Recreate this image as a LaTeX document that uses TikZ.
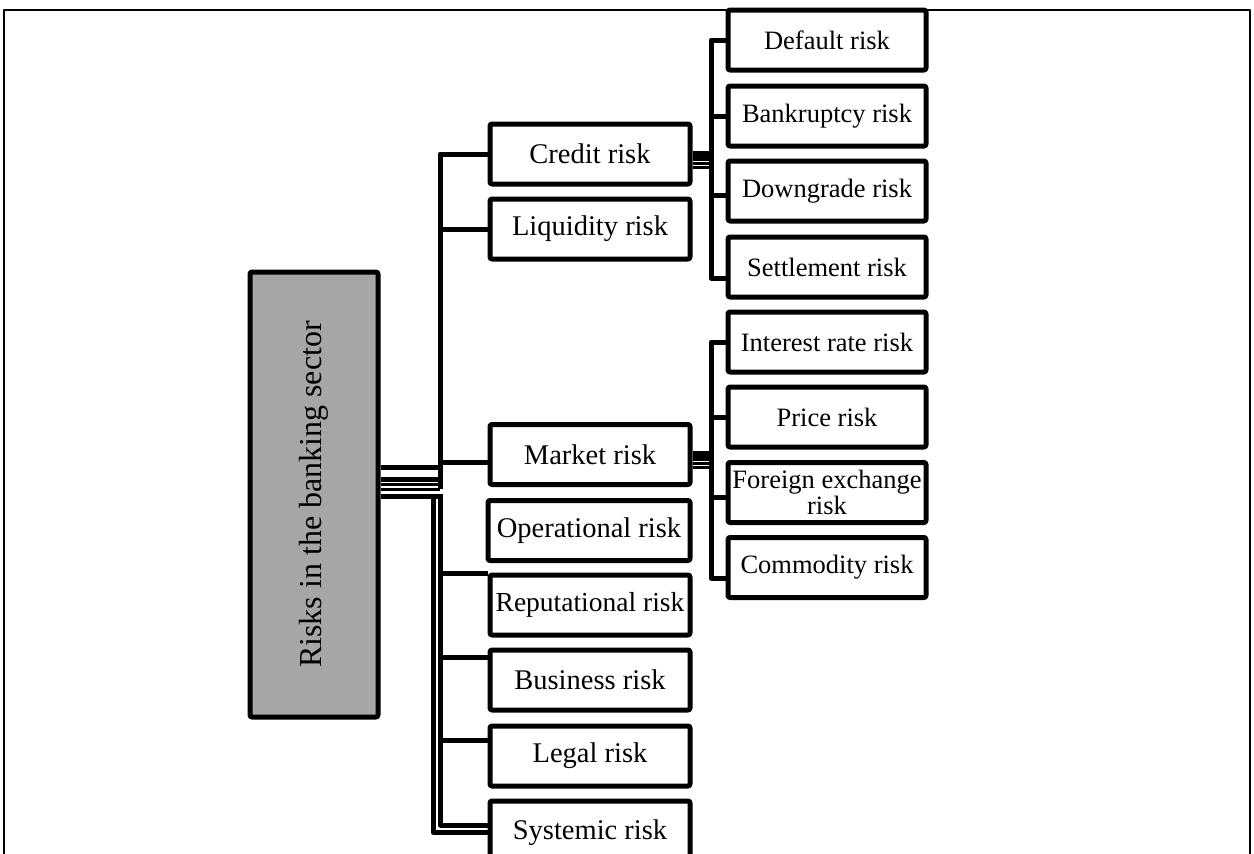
\documentclass[tikz,border=0pt]{standalone}
\usepackage{fontspec}
\setmainfont{Liberation Serif}
\definecolor{rootgray}{RGB}{166,166,166}
\begin{document}
\begin{tikzpicture}[x=1pt,y=-1pt,
  line join=round,
  box/.style={draw=black,line width=5pt,fill=white,rounded corners=2pt,
    minimum width=200pt,minimum height=60pt,inner sep=0pt,align=center,
    font=\fontsize{28.5}{28}\selectfont},
  subbox/.style={box,minimum width=198pt,font=\fontsize{26.5}{26}\selectfont},
  conn/.style={line width=5pt},
  thin conn/.style={line width=3pt}]
\useasboundingbox (0,0) rectangle (1254,854);
\clip (0,0) rectangle (1254,854);
% outer frame
\draw[line width=1.8pt] (4,900) -- (4,10) -- (1250,10) -- (1250,900);

% root
\node[draw=black,line width=5pt,fill=rootgray,rounded corners=2pt,
  minimum width=128pt,minimum height=445pt,inner sep=0pt] (root) at (314,494.5) {};
\node[rotate=90,font=\fontsize{32}{32}\selectfont] (roottext) at (root.center) {Risks in the banking sector};

% first level
\node[box] (credit) at (590,154) {Credit risk};
\node[box] (liquidity) at (590,229) {Liquidity risk};
\node[box] (market) at (590,454.5) {Market risk};
\node[box,minimum width=202pt] (operational) at (589,530.5) {Operational risk};
\node[box,font=\fontsize{27.5}{28}\selectfont] (reputational) at (590,605) {Reputational risk};
\node[box] (business) at (590,680) {Business risk};
\node[box] (legal) at (590,756) {Legal risk};
\node[box,minimum height=64pt] (systemic) at (590,833) {Systemic risk};

% second level: credit
\node[subbox] (default) at (827,40) {Default risk};
\node[subbox] (bankruptcy) at (827,116) {Bankruptcy risk};
\node[subbox] (downgrade) at (827,191) {Downgrade risk};
\node[subbox] (settlement) at (827,267) {Settlement risk};
% second level: market
\node[subbox] (interest) at (827,342) {Interest rate risk};
\node[subbox] (price) at (827,417) {Price risk};
\node[subbox] (foreign) at (827,492.5) {Foreign exchange\\risk};
\node[subbox] (commodity) at (827,567.5) {Commodity risk};

% spines
\coordinate (upper) at (440,0);
\coordinate (lowerA) at (440.5,0);
\coordinate (lowerB) at (433,0);
\coordinate (cspine) at (711,0);

% root to upper group
\coordinate (r1) at ([yshift=27.5pt]root.east);
\coordinate (r2) at ([yshift=15.5pt]root.east);
\coordinate (r3) at ([yshift=10.5pt]root.east);
\coordinate (r4) at ([yshift=5.5pt]root.east);
\coordinate (r5) at ([yshift=-1.5pt]root.east);
\coordinate (mk) at ([yshift=-8pt]market.west);
\draw[conn] (credit.west) -- (upper |- credit.west) -- (upper |- r4);
\draw[conn] (r1) -- (upper |- r1);
\draw[conn] (r2) -- (upper |- r2);
\draw[thin conn] (r3) -- (upper |- r3);
\draw[thin conn] (r4) -- (upper |- r4);
\draw[conn] (upper |- liquidity.west) -- (liquidity.west);
\draw[conn] (upper |- mk) -- (mk);

% root to lower group
\coordinate (sysA) at ([yshift=8pt]systemic.west);
\coordinate (sysB) at ([yshift=1pt]systemic.west);
\coordinate (repin) at ([yshift=32pt]reputational.west);
\coordinate (busin) at ([yshift=23pt]business.west);
\coordinate (legin) at ([yshift=16pt]legal.west);
\draw[conn] (r5) -- ([xshift=2pt]lowerA |- r5);
\draw[conn] (lowerA |- r5) -- (lowerA |- sysA) -- (sysA);
\draw[conn] (lowerB |- r5) -- (lowerB |- sysB) -- (sysB);
\draw[conn] (lowerA |- repin) -- (repin);
\draw[conn] (lowerA |- busin) -- (busin);
\draw[conn] (lowerA |- legin) -- (legin);

% credit risk subtree
\coordinate (dwin) at ([yshift=-4pt]downgrade.west);
\coordinate (stin) at ([yshift=-11pt]settlement.west);
\draw[conn] (default.west) -- (cspine |- default.west) -- (cspine |- stin) -- (stin);
\draw[conn] (cspine |- bankruptcy.west) -- (bankruptcy.west);
\draw[conn] (cspine |- dwin) -- (dwin);
\coordinate (c1) at ([yshift=-1.5pt]credit.east);
\coordinate (c2) at ([yshift=-9.5pt]credit.east);
\coordinate (c3) at ([yshift=-13.5pt]credit.east);
\draw[line width=10pt] (c1) -- (cspine |- c1);
\draw[line width=2.5pt] (c2) -- (cspine |- c2);
\draw[line width=3.5pt] (c3) -- (cspine |- c3);

% market risk subtree
\coordinate (fxin) at ([yshift=-4.5pt]foreign.west);
\coordinate (cmin) at ([yshift=-10.5pt]commodity.west);
\draw[conn] (interest.west) -- (cspine |- interest.west) -- (cspine |- cmin) -- (cmin);
\draw[conn] (cspine |- price.west) -- (price.west);
\draw[conn] (cspine |- fxin) -- (fxin);
\coordinate (m1) at ([yshift=-1pt]market.east);
\coordinate (m2) at ([yshift=-9pt]market.east);
\coordinate (m3) at ([yshift=-13pt]market.east);
\draw[line width=10pt] (m1) -- (cspine |- m1);
\draw[line width=2.5pt] (m2) -- (cspine |- m2);
\draw[line width=3.5pt] (m3) -- (cspine |- m3);
\end{tikzpicture}
\end{document}
